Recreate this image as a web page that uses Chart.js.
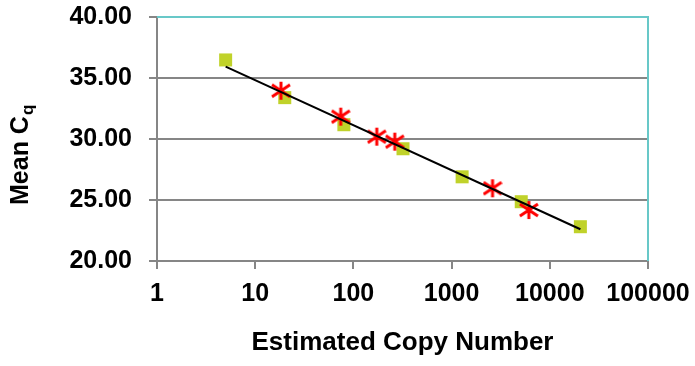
<!DOCTYPE html>
<html>
<head>
<meta charset="utf-8">
<script src="https://cdn.jsdelivr.net/npm/chart.js@4"></script>
<style>
  html, body { margin: 0; padding: 0; background: #fff; }
  canvas { display: block; }
</style>
</head>
<body>
<canvas id="cqChart" width="695" height="366"></canvas>
<script>
// standard curve points (green squares)
const stdCopies = [5, 20, 80, 320, 1280, 5120, 20480];
const stdCq = [36.48, 33.39, 31.17, 29.2, 26.9, 24.86, 22.81];

// samples (red stars)
const sampleCopies = [18.3, 74.3, 173, 264, 2610, 6120];
const sampleCq = [33.96, 31.83, 30.19, 29.78, 25.96, 24.18];

// trend line end points
const fitCopies = [5, 20480];
const fitCq = [35.93, 22.6];

const xTicks = [1, 10, 100, 1000, 10000, 100000];
const yTicks = [20, 25, 30, 35, 40];

const FONT = '"Liberation Sans", Arial, sans-serif';
const GRAY = 'rgb(134,134,134)';
const CYAN = 'rgb(104,200,200)';

const toPoints = (xs, ys) => xs.map((x, i) => ({ x: x, y: ys[i] }));

// excel-like star marker: vertical bar + an X
function starMarker() {
    const c = document.createElement('canvas');
    c.width = 20; c.height = 20;
    const g = c.getContext('2d');
    g.strokeStyle = '#ff0000';
    g.lineWidth = 3;
    g.beginPath();
    g.moveTo(10, 1); g.lineTo(10, 19);
    g.moveTo(1, 4); g.lineTo(19, 16);
    g.moveTo(1, 16); g.lineTo(19, 4);
    g.stroke();
    return c;
}

// cyan top/right border + y title with subscript
const extras = {
    id: 'extras',
    beforeDatasetsDraw(chart) {
        const { ctx, chartArea: a } = chart;
        ctx.save();
        ctx.strokeStyle = CYAN;
        ctx.lineWidth = 2;
        ctx.beginPath();
        ctx.moveTo(a.left, a.top);
        ctx.lineTo(a.right, a.top);
        ctx.lineTo(a.right, a.bottom);
        ctx.stroke();
        ctx.restore();
    },
    afterDraw(chart) {
        const ctx = chart.ctx;
        ctx.save();
        ctx.translate(28, 205);
        ctx.rotate(-Math.PI / 2);
        ctx.fillStyle = '#000';
        ctx.textBaseline = 'alphabetic';
        ctx.textAlign = 'left';
        ctx.font = 'bold 25px ' + FONT;
        const main = 'Mean C';
        ctx.fillText(main, 0, 0);
        const w = ctx.measureText(main).width;
        ctx.font = 'bold 17px ' + FONT;
        ctx.fillText('q', w + 1, 5);
        ctx.restore();
    }
};

new Chart(document.getElementById('cqChart'), {
    type: 'scatter',
    data: {
        datasets: [
            {
                type: 'line',
                data: toPoints(fitCopies, fitCq),
                borderColor: '#000',
                borderWidth: 2,
                pointRadius: 0,
                order: 0
            },
            {
                data: toPoints(sampleCopies, sampleCq),
                pointStyle: starMarker(),
                order: 1
            },
            {
                data: toPoints(stdCopies, stdCq),
                pointStyle: 'rect',
                pointRadius: 9.2,
                backgroundColor: 'rgb(192,210,42)',
                borderWidth: 0,
                order: 2
            }
        ]
    },
    options: {
        responsive: false,
        animation: false,
        layout: { padding: { top: 17, right: 47, left: 0, bottom: 0 } },
        plugins: { legend: { display: false }, tooltip: { enabled: false } },
        scales: {
            x: {
                type: 'logarithmic',
                min: 1,
                max: 100000,
                afterBuildTicks: s => { s.ticks = xTicks.map(v => ({ value: v })); },
                afterFit: s => { s.height = 105; s.paddingLeft = 0; s.paddingRight = 0; },
                border: { color: GRAY, width: 2 },
                grid: { drawOnChartArea: false, drawTicks: true, tickLength: 8, color: GRAY, lineWidth: 2 },
                ticks: {
                    color: '#000',
                    padding: 10,
                    maxRotation: 0,
                    font: { family: FONT, size: 25, weight: 'bold' },
                    callback: v => String(v)
                },
                title: {
                    display: true,
                    text: 'Estimated Copy Number',
                    color: '#000',
                    font: { family: FONT, size: 26, weight: 'bold' },
                    padding: { top: 0, bottom: 8 }
                }
            },
            y: {
                min: 20,
                max: 40,
                afterBuildTicks: s => { s.ticks = yTicks.map(v => ({ value: v })); },
                afterFit: s => { s.width = 157; s.paddingTop = 0; s.paddingBottom = 0; },
                border: { color: GRAY, width: 2 },
                grid: { color: GRAY, lineWidth: 2, tickLength: 8 },
                ticks: {
                    color: '#000',
                    padding: 17,
                    font: { family: FONT, size: 25, weight: 'bold' },
                    callback: v => v.toFixed(2)
                }
            }
        }
    },
    plugins: [extras]
});
</script>
</body>
</html>
